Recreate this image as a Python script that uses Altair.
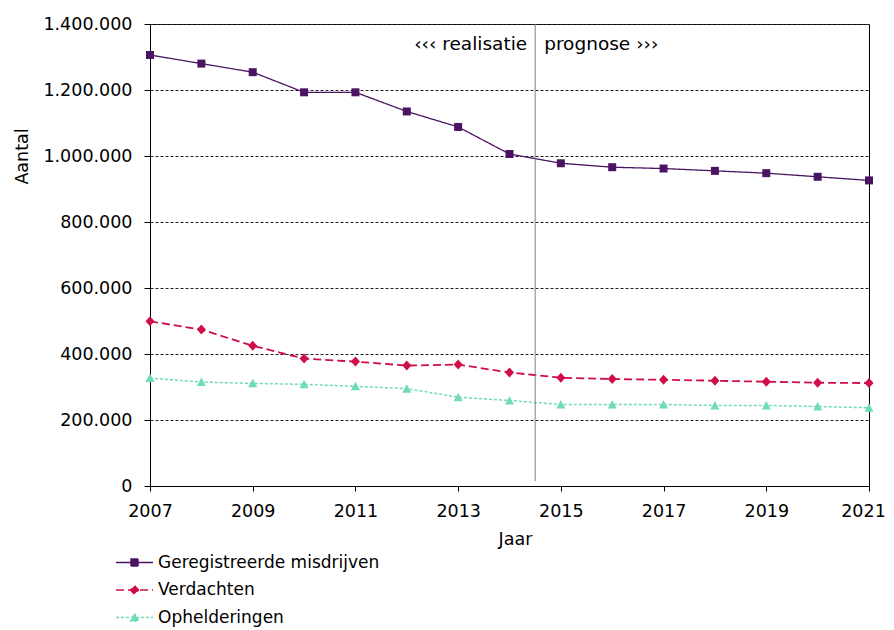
import altair as alt
import pandas as pd

# ---------------- data ----------------
years = list(range(2007, 2022))
series_names = ["Geregistreerde misdrijven", "Verdachten", "Ophelderingen"]
misdrijven = [1306000, 1280000, 1254000, 1193000, 1193000, 1135000, 1088000,
              1006000, 978000, 966000, 962000, 955000, 948000, 937000, 926000]
verdachten = [499000, 474000, 425000, 386000, 377000, 365000, 368000,
              344000, 328000, 324000, 322000, 319000, 316000, 313000, 312000]
ophelderingen = [327000, 315000, 311000, 308000, 302000, 295000, 269000,
                 259000, 247000, 247000, 247000, 244000, 244000, 241000, 237000]
series_values = [misdrijven, verdachten, ophelderingen]

split_year = [2014.5]
annotation_labels = ["\u2039\u2039\u2039 realisatie", "prognose \u203a\u203a\u203a"]

x_tick_values = list(range(2007, 2022, 2))
y_tick_values = list(range(0, 1400001, 200000))

# ---------------- styles ----------------
colors = ["#4b1462", "#cf0d47", "#6fdcb2"]
dashes = [[1, 0], [8, 4], [3, 2]]
widths = [1.3, 1.8, 1.5]
marker_paths = [
    "M-0.8,-0.8H0.8V0.8H-0.8Z",
    "M0,-1L0.9,0L0,1L-0.9,0Z",
    "M0,-0.9L0.9,0.8L-0.9,0.8Z",
]
legend_markers = [
    "M-0.7,-0.7H0.7V0.7H-0.7Z",
    "M0,-0.85L0.8,0L0,0.85L-0.8,0Z",
    "M0,-0.8L0.8,0.7L-0.8,0.7Z",
]
legend_paths = ["M-3.7,0H3.7" + m for m in legend_markers]

FONT = "DejaVu Sans"

rows = []
for name, vals in zip(series_names, series_values):
    for yr, v in zip(years, vals):
        rows.append({"jaar": yr, "aantal": v, "serie": name})
df = pd.DataFrame(rows)

x_enc = alt.X(
    "jaar:Q",
    scale=alt.Scale(domain=[2007, 2021], nice=False, zero=False),
    axis=alt.Axis(
        values=x_tick_values, format="d", title="Jaar", grid=False,
        labelFontSize=17.5, titleFontSize=17.5, labelFont=FONT, titleFont=FONT,
        labelColor="black", titleColor="black", titleFontWeight="normal",
        domainColor="black", tickColor="black", tickSize=5,
        labelBaseline="alphabetic", labelPadding=25,
        labelOffset={"condition": {"test": "datum.value == 2021", "value": -6}, "value": 0},
        titleX=365, titleY=58, titleBaseline="alphabetic",
        labelFlush=False,
    ),
)
y_enc = alt.Y(
    "aantal:Q",
    scale=alt.Scale(domain=[0, 1400000], nice=False),
    axis=alt.Axis(
        values=y_tick_values, title="Aantal",
        labelExpr="replace(format(datum.value, ','), regexp(',', 'g'), '.')",
        labelFontSize=17.5, titleFontSize=17.5, labelFont=FONT, titleFont=FONT,
        labelColor="black", titleColor="black", titleFontWeight="normal",
        domainColor="black", tickColor="black", tickSize=6, labelPadding=12,
        grid=True, gridColor="#222222", gridDash=[3, 2], gridWidth=1,
        titleX=-123, titleY=132, titleAngle=-90, titleAlign="center",
        titleBaseline="alphabetic",
    ),
)

base = alt.Chart(df)

line_layers = []
point_layers = []
for i, (name, col, dash, w, path) in enumerate(
        zip(series_names, colors, dashes, widths, marker_paths)):
    sub = base.transform_filter(alt.datum.serie == name)
    if i == 0:
        line_layers.append(sub.mark_line(stroke=col, strokeDash=dash, strokeWidth=w)
                           .encode(x=x_enc, y=y_enc))
    else:
        line_layers.append(sub.mark_line(stroke=col, strokeDash=dash, strokeWidth=w)
                           .encode(x="jaar:Q", y="aantal:Q"))
    point_layers.append(
        sub.mark_point(shape=path, size=100, filled=True, fill=col, opacity=1,
                       strokeWidth=0)
        .encode(x="jaar:Q", y="aantal:Q")
    )

leg = alt.Legend(
    title=None, orient="none", legendX=-24, legendY=530,
    labelFont=FONT, labelFontSize=17, labelColor="black", labelLimit=500,
    symbolSize=100, symbolStrokeWidth=1.5, labelOffset=15,
    rowPadding=9.5, padding=0,
)
legend_layer = base.transform_filter("datum.aantal < 0").mark_point(
    filled=True, opacity=1, size=100, strokeWidth=1.5
).encode(
    x="jaar:Q", y="aantal:Q",
    fill=alt.Fill("serie:N", scale=alt.Scale(domain=series_names, range=colors), legend=leg),
    stroke=alt.Stroke("serie:N", scale=alt.Scale(domain=series_names, range=colors), legend=leg),
    shape=alt.Shape("serie:N", scale=alt.Scale(domain=series_names, range=legend_paths), legend=leg),
    strokeDash=alt.StrokeDash("serie:N", scale=alt.Scale(domain=series_names, range=dashes), legend=leg),
)

split_df = pd.DataFrame({"jaar": split_year, "top": [1400000], "bottom": [15000]})
rule = alt.Chart(split_df).mark_rule(color="#808080", strokeWidth=1).encode(
    x="jaar:Q", y="top:Q", y2="bottom:Q"
)

ann_df = pd.DataFrame({"jaar": split_year * 2, "aantal": [1320000, 1320000],
                       "label": annotation_labels})
ann_left = alt.Chart(ann_df).transform_filter(alt.datum.label == annotation_labels[0]).mark_text(
    align="right", baseline="alphabetic", dx=-8, font=FONT, fontSize=18.5, color="black"
).encode(x="jaar:Q", y="aantal:Q", text="label:N")
ann_right = alt.Chart(ann_df).transform_filter(alt.datum.label == annotation_labels[1]).mark_text(
    align="left", baseline="alphabetic", dx=9, font=FONT, fontSize=18.5, color="black"
).encode(x="jaar:Q", y="aantal:Q", text="label:N")

chart = alt.layer(
    *line_layers, *point_layers, legend_layer, rule, ann_left, ann_right
).properties(
    width=719, height=462,
    autosize=alt.AutoSizeParams(type="none"),
    padding={"left": 142, "top": 16, "right": 17, "bottom": 146},
    background="white",
).configure_view(stroke="black", strokeWidth=1)

chart.save("out.html", embed_options={"renderer": "svg", "actions": False})
